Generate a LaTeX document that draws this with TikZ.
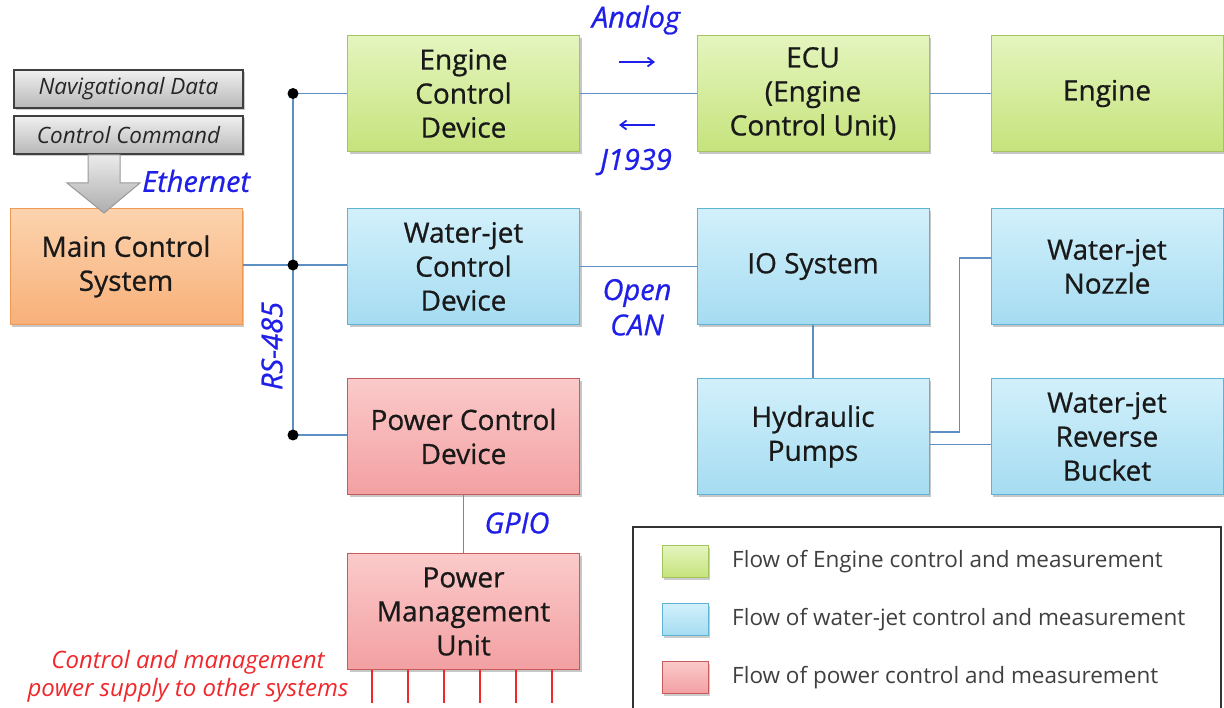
\documentclass[tikz,border=0pt]{standalone}
\usepackage{fontspec}
\setmainfont{Open Sans}
\newfontfamily\boxfont{Open Sans}[RawFeature={embolden=0.7}]
\usetikzlibrary{shadows,calc,arrows.meta}
\definecolor{grnT}{HTML}{E4F5BE}
\definecolor{grnB}{HTML}{C6E37C}
\definecolor{grnD}{HTML}{A3C45E}
\definecolor{bluT}{HTML}{D2F0FB}
\definecolor{bluB}{HTML}{A5DCF1}
\definecolor{bluD}{HTML}{5CB3D3}
\definecolor{redT}{HTML}{FBCACA}
\definecolor{redB}{HTML}{F3A0A2}
\definecolor{redD}{HTML}{C75A5C}
\definecolor{orgT}{HTML}{FCD3AE}
\definecolor{orgB}{HTML}{F8B079}
\definecolor{orgD}{HTML}{EE9A55}
\definecolor{wire}{HTML}{5E8FC3}
\definecolor{lblue}{HTML}{1F1FE8}
\definecolor{lred}{HTML}{F0282C}
\tikzset{
  box/.style={draw, line width=1pt, minimum width=232pt, minimum height=116pt, inner sep=2pt,
    align=center, font=\boxfont\fontsize{28}{34}\selectfont, text=black!90,
    drop shadow={shadow xshift=2pt, shadow yshift=-2.5pt, fill=black, opacity=0.22}},
  gbox/.style={box, draw=grnD, top color=grnT, bottom color=grnB},
  bbox/.style={box, draw=bluD, top color=bluT, bottom color=bluB},
  rbox/.style={box, draw=redD, top color=redT, bottom color=redB},
  obox/.style={box, draw=orgD, top color=orgT, bottom color=orgB},
  graybox/.style={draw=black!75, line width=1.2pt, top color=black!6, bottom color=black!28,
    minimum width=229pt, minimum height=38pt, inner sep=0pt,
    font=\fontsize{22.5}{26}\selectfont\itshape, text=black!85,
    drop shadow={shadow xshift=1.5pt, shadow yshift=-2pt, fill=black, opacity=0.2}},
  wireline/.style={draw=wire, line width=1.4pt},
  lbl/.style={text=lblue, font=\boxfont\fontsize{29}{32}\selectfont\itshape, inner sep=0pt},
  dot/.style={circle, fill=black, inner sep=0pt, minimum size=11pt},
  swatch/.style={draw, line width=1pt, minimum width=46pt, minimum height=32pt, inner sep=0pt,
    drop shadow={shadow xshift=1.5pt, shadow yshift=-2pt, fill=black, opacity=0.2}},
  legtext/.style={anchor=west, font=\fontsize{22.5}{26}\selectfont, text=black!75, inner sep=0pt},
}
\begin{document}
\begin{tikzpicture}[x=1pt,y=-1pt]
\useasboundingbox (0,0) rectangle (1224,708);
\fill[white] (0,0) rectangle (1224,708);

% boxes
\node[gbox] (ecd) at (463.5,93.5) {Engine\\Control\\Device};
\node[gbox] (ecu) at (813,93.5) {ECU\\(Engine\\Control Unit)};
\node[gbox] (eng) at (1107,93.5) {Engine};
\node[bbox] (wcd) at (463.5,266.5) {Water-jet\\Control\\Device};
\node[bbox] (io) at (813,266.5) {IO System};
\node[bbox] (nz) at (1107,266.5) {Water-jet\\Nozzle};
\node[bbox] (hp) at (813,436.5) {Hydraulic\\Pumps};
\node[bbox] (rb) at (1107,436.5) {Water-jet\\Reverse\\Bucket};
\node[rbox] (pcd) at (463.5,436.5) {Power Control\\Device};
\node[rbox] (pmu) at (463.5,611.5) {Power\\Management\\Unit};
\node[obox] (mcs) at (126,266.5) {Main Control\\System};

% input boxes and big arrow
\node[graybox] (nav) at (128.5,89) {Navigational Data};
\node[graybox] (cmd) at (128.5,135) {Control Command};
\draw[draw=black!40, line width=1pt, top color=black!8, bottom color=black!32]
  (88,155) -- (120,155) -- (120,183) -- (140,183) -- (104,213) -- (67,183) -- (88,183) -- cycle;
\node[lbl, anchor=west] (eth) at (142,181) {Ethernet};

% bus
\coordinate (b1) at (293,93.5);
\coordinate (b2) at (293,265);
\coordinate (b3) at (293,435);
\draw[wireline] (b1) -- (b3);
\draw[wireline] (b1) -- (b1 -| ecd.west);
\draw[wireline] (mcs.east |- b2) -- (b2) -- (b2 -| wcd.west);
\draw[wireline] (b3) -- (b3 -| pcd.west);
\node[dot] at (b1) {};
\node[dot] at (b2) {};
\node[dot] at (b3) {};
\node[lbl, rotate=90] (rs) at (272,346) {RS-485};

% engine links
\draw[wireline] (ecd) -- (ecu);
\draw[wireline] (ecu) -- (eng);
\node[lbl] (an) at (636,20) {Analog};
\node[lbl] (jj) at (636,162) {J1939};
\coordinate (a1s) at (619,62); \coordinate (a1e) at (655,62);
\coordinate (a2s) at (655,125); \coordinate (a2e) at (619,125);
\draw[lblue, line width=1.8pt, -{Straight Barb[length=6pt,width=9pt]}] (a1s) -- (a1e);
\draw[lblue, line width=1.8pt, -{Straight Barb[length=6pt,width=9pt]}] (a2s) -- (a2e);

% water-jet links
\draw[wireline] (wcd) -- (io);
\node[lbl] (op) at (637,293) {Open};
\node[lbl] (can) at (637,325) {CAN};
\draw[wireline] (io) -- (hp);
\draw[wireline] ($(hp.east)+(0,-4.5)$) -| ($(nz.west)+(-31,-8.5)$) -- ($(nz.west)+(0,-8.5)$);
\draw[wireline] ($(hp.east)+(0,8)$) -- ($(rb.west)+(0,8)$);

% power links
\draw[wireline] (pcd) -- (pmu);
\node[lbl] (gp) at (517,523) {GPIO};
\foreach \i/\x in {1/372,2/408,3/444,4/480,5/516,6/552} {
  \coordinate (r\i) at (\x,703);
  \draw[lred, line width=2pt] (pmu.south -| r\i) -- (r\i);
}
\node[text=lred, font=\fontsize{24}{28}\selectfont\itshape, align=center, inner sep=0pt] (ps) at (188,676)
  {Control and management\\power supply to other systems};

% legend
\draw[draw=black!80, line width=1.5pt, fill=white] (633,527) rectangle (1221,715);
\node[swatch, draw=grnD, top color=grnT, bottom color=grnB] (s1) at (685.5,561.5) {};
\node[swatch, draw=bluD, top color=bluT, bottom color=bluB] (s2) at (685.5,619.5) {};
\node[swatch, draw=redD, top color=redT, bottom color=redB] (s3) at (685.5,677.5) {};
\node[legtext] (t1) at (732,562) {Flow of Engine control and measurement};
\node[legtext] (t2) at (732,620) {Flow of water-jet control and measurement};
\node[legtext] (t3) at (732,678) {Flow of power control and measurement};
\end{tikzpicture}
\end{document}
